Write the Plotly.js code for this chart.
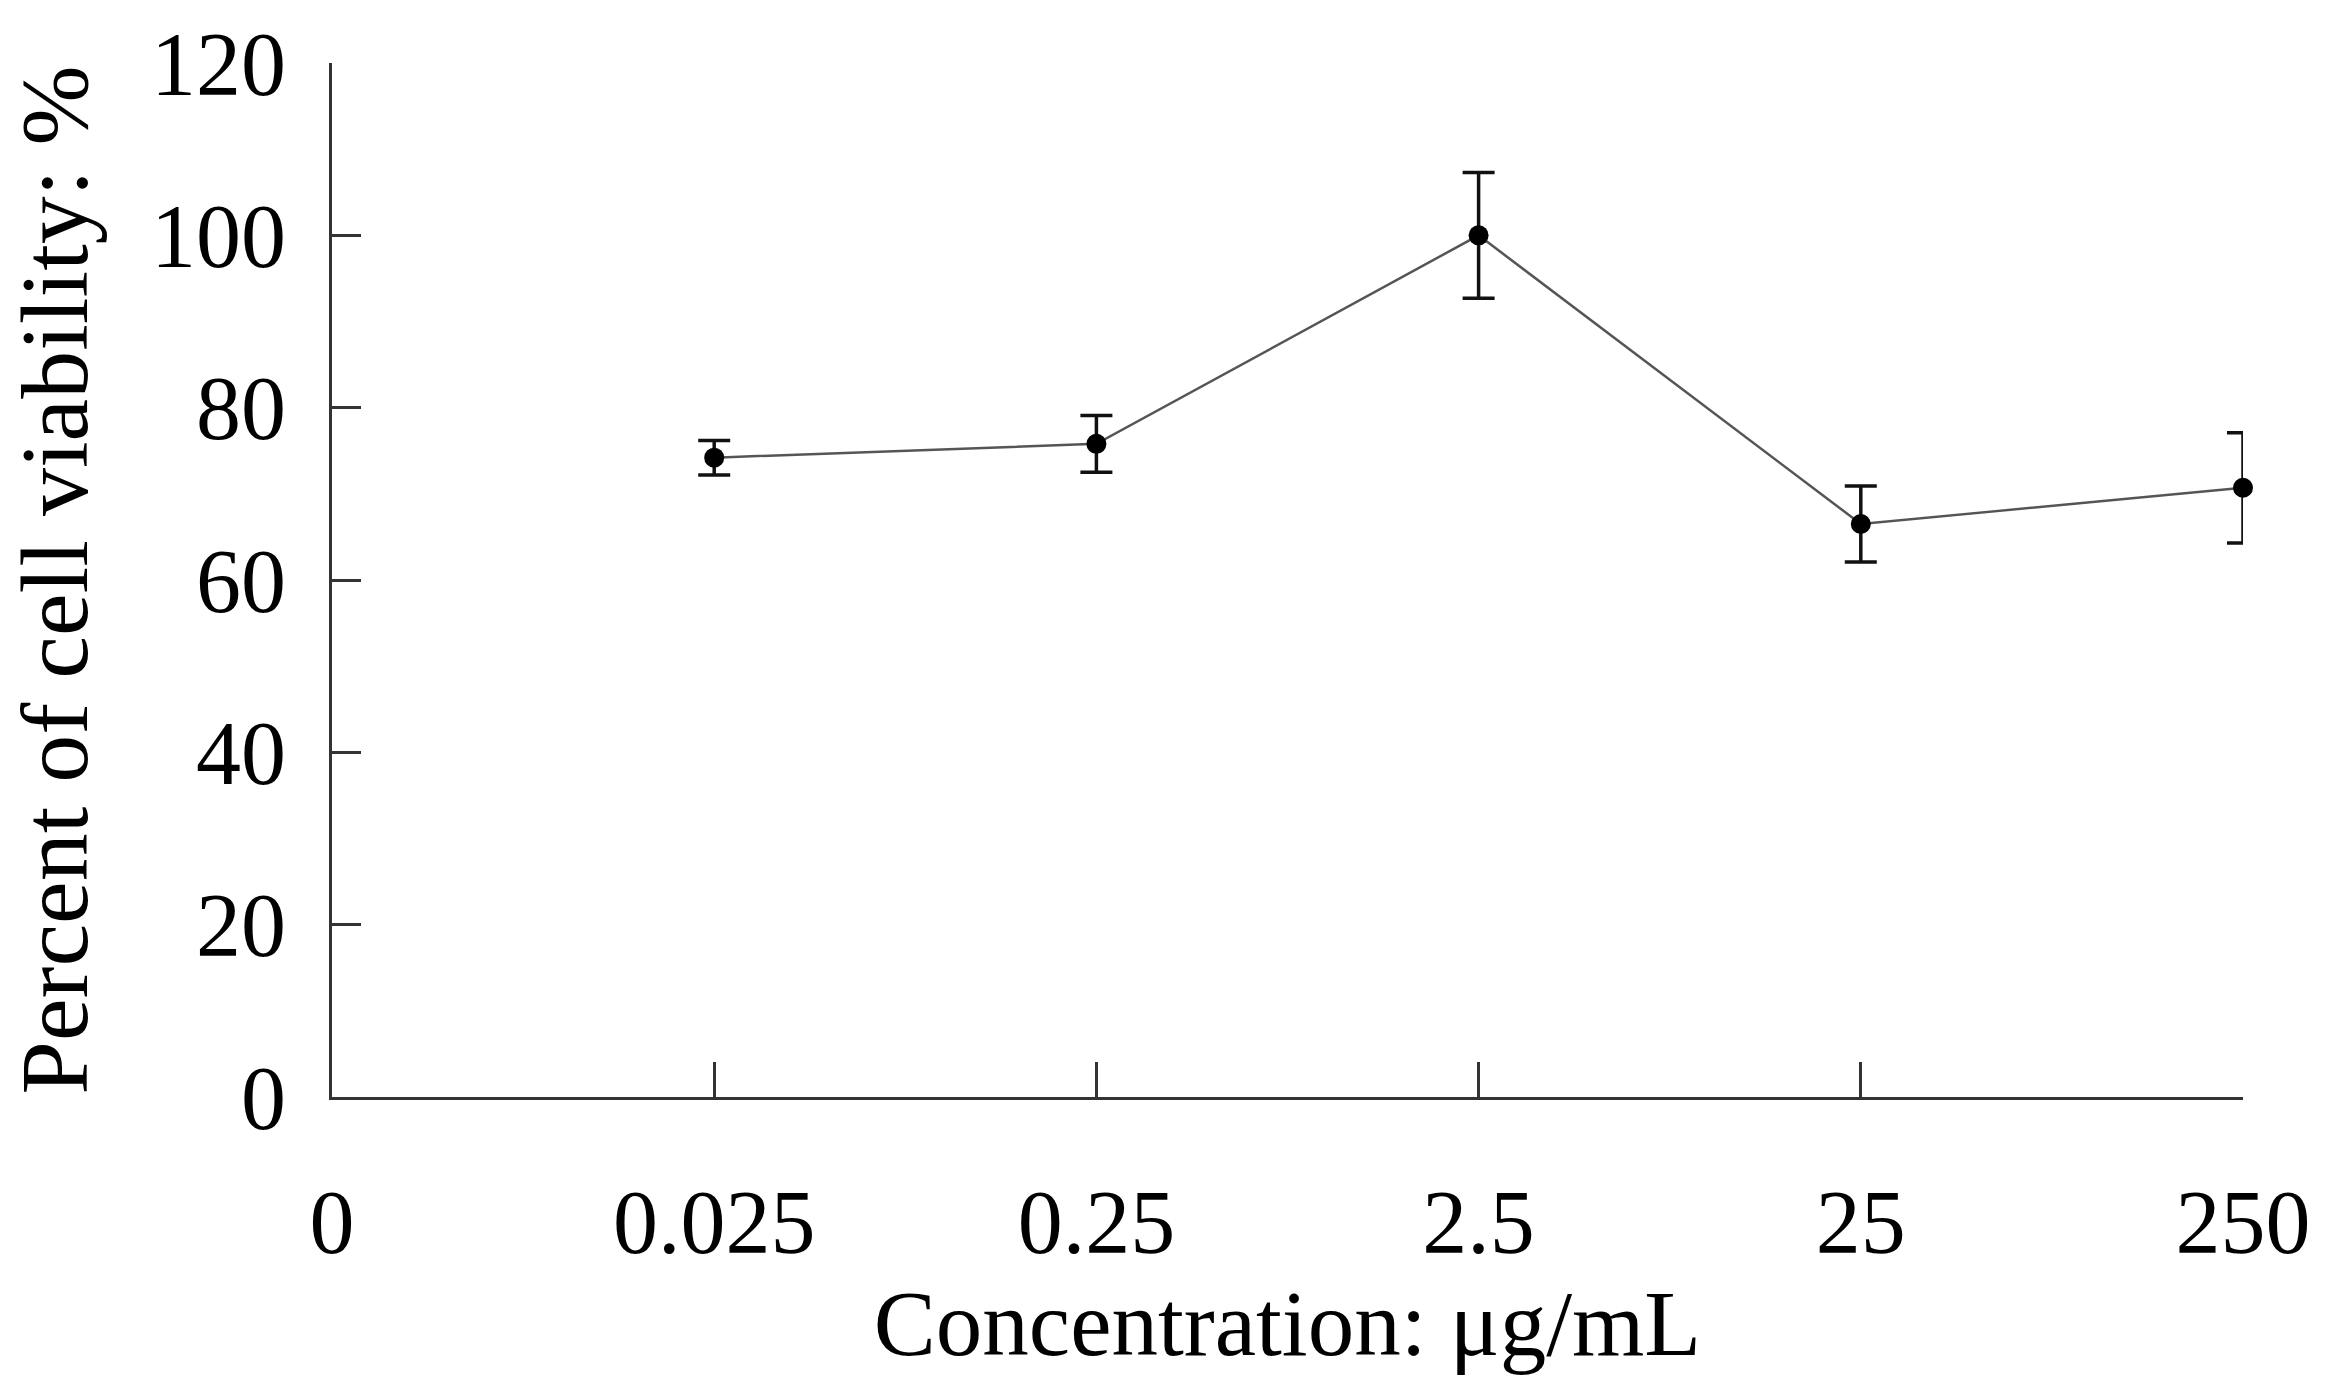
<!DOCTYPE html>
<html>
<head>
<meta charset="utf-8">
<script src="https://cdn.plot.ly/plotly-3.0.1.min.js"></script>
<style>
  html, body { margin: 0; padding: 0; background: #fff; }
  #chart { width: 2347px; height: 1395px; }
</style>
</head>
<body>
<div id="chart"></div>
<script>
// x categories (µg/mL), first one is the axis origin
const axisLabels = ['0', '0.025', '0.25', '2.5', '25', '250'];
const concentrations = ['0.025', '0.25', '2.5', '25', '250'];
const viability = [74.2, 75.8, 100.0, 66.5, 70.7];
const viabilityErr = [2.0, 3.3, 7.3, 4.4, 6.4];
const yTicks = [0, 20, 40, 60, 80, 100, 120];

const font = 'Liberation Serif, Times New Roman, serif';

const traces = [
  {
    x: concentrations,
    y: viability,
    type: 'scatter',
    mode: 'lines+markers',
    cliponaxis: false,
    line: { color: '#555555', width: 2.5 },
    marker: { color: '#000000', size: 20 },
    error_y: {
      type: 'data',
      array: viabilityErr,
      visible: true,
      color: '#111111',
      thickness: 3.5,
      width: 16
    },
    showlegend: false
  }
];

const layout = {
  width: 2347,
  height: 1395,
  paper_bgcolor: '#ffffff',
  plot_bgcolor: '#ffffff',
  margin: { l: 332, r: 104, t: 63, b: 298 },
  font: { family: font, color: '#000000', size: 88 },
  xaxis: {
    type: 'category',
    categoryorder: 'array',
    categoryarray: axisLabels,
    range: [0, 5],
    showgrid: false,
    zeroline: false,
    showline: true,
    linecolor: '#333333',
    linewidth: 3,
    ticks: 'inside',
    ticklen: 35,
    tickwidth: 3,
    tickcolor: '#333333',
    ticklabelstandoff: 45,
    tickfont: { family: font, size: 90, color: '#000000' },
    title: {
      text: 'Concentration: μg/mL',
      font: { family: font, size: 93, color: '#000000' },
      standoff: 10
    }
  },
  yaxis: {
    range: [0, 120],
    tickvals: yTicks,
    showgrid: false,
    zeroline: false,
    showline: true,
    linecolor: '#333333',
    linewidth: 3,
    ticks: 'inside',
    ticklen: 29,
    tickwidth: 3,
    tickcolor: '#333333',
    ticklabelstandoff: 25,
    tickfont: { family: font, size: 90, color: '#000000' },
    title: {
      text: 'Percent of cell viability: %',
      font: { family: font, size: 96, color: '#000000' },
      standoff: 32
    }
  }
};

Plotly.newPlot('chart', traces, layout, { displayModeBar: false, staticPlot: true });
</script>
</body>
</html>
